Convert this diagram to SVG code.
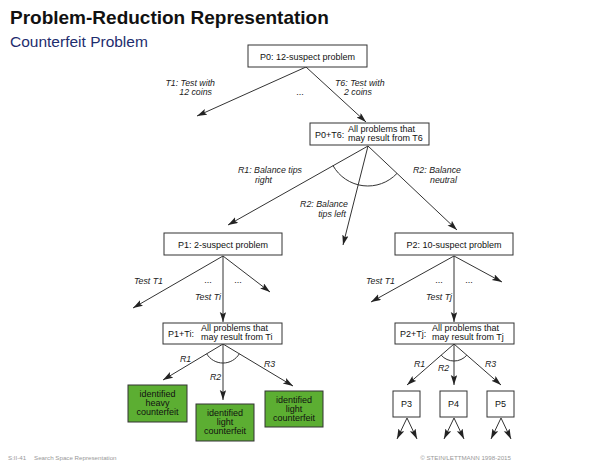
<svg xmlns="http://www.w3.org/2000/svg" width="600" height="467" viewBox="0 0 600 467">
<style>
text{font-family:"Liberation Sans",Arial,sans-serif;fill:#111}
.n{font-size:9px}
.l{font-size:8.8px;font-style:italic;fill:#222}
.box{fill:#fff;stroke:#333;stroke-width:1}
.g{fill:#5cae32;stroke:#333;stroke-width:1}
.c line,.c path{stroke:#333;stroke-width:1;fill:none}
.c line{marker-end:url(#ah)}
.ft{font-size:6.2px;fill:#999}
</style>
<defs>
<marker id="ah" markerUnits="userSpaceOnUse" markerWidth="11" markerHeight="8" refX="10" refY="3.2" orient="auto">
<path d="M0,0 L10,3.2 L0,6.4 L2,3.2 Z" fill="#222"/>
</marker>
</defs>
<rect width="600" height="467" fill="#fff"/>
<text x="10" y="24" style="font-size:19px;font-weight:bold">Problem-Reduction Representation</text>
<text x="10" y="47" style="font-size:15.5px;fill:#1e2d6e">Counterfeit Problem</text>

<g class="c" id="connectors">
<line x1="306" y1="67" x2="197" y2="116"/>
<line x1="306" y1="67" x2="366" y2="122"/>
<line x1="368" y1="146" x2="228" y2="225"/>
<line x1="368" y1="146" x2="343" y2="245"/>
<line x1="368" y1="146" x2="457" y2="230"/>
<path d="M333,165.6 A40 40 0 0 0 397,173.4"/>
<line x1="223" y1="256" x2="133" y2="308"/>
<line x1="223" y1="256" x2="223" y2="322"/>
<line x1="223" y1="256" x2="270" y2="292"/>
<line x1="454" y1="256" x2="371" y2="302"/>
<line x1="454" y1="256" x2="454" y2="322"/>
<line x1="454" y1="256" x2="502" y2="282"/>
<line x1="223" y1="344" x2="163" y2="380"/>
<line x1="223" y1="344" x2="223" y2="400"/>
<line x1="223" y1="344" x2="293" y2="386"/>
<path d="M206.7,353.8 A19 19 0 0 0 239.3,353.8"/>
<line x1="454" y1="344" x2="407" y2="385"/>
<line x1="454" y1="344" x2="454" y2="385"/>
<line x1="454" y1="344" x2="501" y2="385"/>
<path d="M441.2,355.2 A17 17 0 0 0 466.8,355.2"/>
<line x1="407" y1="418" x2="397" y2="439"/>
<line x1="407" y1="418" x2="417" y2="439"/>
<line x1="454" y1="418" x2="444" y2="439"/>
<line x1="454" y1="418" x2="464" y2="439"/>
<line x1="501" y1="418" x2="491" y2="439"/>
<line x1="501" y1="418" x2="511" y2="439"/>
</g>

<g id="labels">
<text class="l" x="215" y="86" text-anchor="end">T1: Test with</text>
<text class="l" x="212" y="95" text-anchor="end">12 coins</text>
<text class="n" x="300" y="95" text-anchor="middle">...</text>
<text class="l" x="335" y="86">T6: Test with</text>
<text class="l" x="344" y="95">2 coins</text>
<text class="l" x="302" y="173" text-anchor="end">R1: Balance tips</text>
<text class="l" x="272" y="183" text-anchor="end">right</text>
<text class="l" x="413" y="173">R2: Balance</text>
<text class="l" x="430" y="183">neutral</text>
<text class="l" x="348" y="207" text-anchor="end">R2: Balance</text>
<text class="l" x="346" y="217" text-anchor="end">tips left</text>
<text class="l" x="163" y="284" text-anchor="end">Test T1</text>
<text class="n" x="208" y="283" text-anchor="middle">...</text>
<text class="n" x="238" y="283" text-anchor="middle">...</text>
<text class="l" x="221" y="300" text-anchor="end">Test Ti</text>
<text class="l" x="395" y="284" text-anchor="end">Test T1</text>
<text class="n" x="439" y="283" text-anchor="middle">...</text>
<text class="n" x="469" y="283" text-anchor="middle">...</text>
<text class="l" x="452" y="300" text-anchor="end">Test Tj</text>
<text class="l" x="180" y="362">R1</text>
<text class="l" x="210" y="380">R2</text>
<text class="l" x="264" y="367">R3</text>
<text class="l" x="414" y="367">R1</text>
<text class="l" x="438" y="371">R2</text>
<text class="l" x="485" y="367">R3</text>
</g>

<g id="P0"><rect class="box" x="248" y="45" width="119" height="22"/><text class="n" x="307.5" y="59.5" text-anchor="middle">P0: 12-suspect problem</text></g>
<g id="P0T6"><rect class="box" x="310" y="123" width="119" height="22"/><text class="n" x="315" y="138">P0+T6:</text><text class="n" x="348" y="132">All problems that</text><text class="n" x="348" y="141">may result from T6</text></g>
<g id="P1"><rect class="box" x="164" y="233" width="118" height="22"/><text class="n" x="223" y="247.5" text-anchor="middle">P1: 2-suspect problem</text></g>
<g id="P2"><rect class="box" x="395" y="233" width="118" height="22"/><text class="n" x="454" y="247.5" text-anchor="middle">P2: 10-suspect problem</text></g>
<g id="P1Ti"><rect class="box" x="163" y="323" width="119" height="21"/><text class="n" x="168" y="337">P1+Ti:</text><text class="n" x="201" y="331">All problems that</text><text class="n" x="201" y="340">may result from Ti</text></g>
<g id="P2Tj"><rect class="box" x="395" y="323" width="119" height="21"/><text class="n" x="400" y="337">P2+Tj:</text><text class="n" x="432" y="331">All problems that</text><text class="n" x="432" y="340">may result from Tj</text></g>
<g id="G1"><rect class="g" x="128" y="385" width="59" height="37"/><text class="n" x="157.5" y="397" text-anchor="middle">identified</text><text class="n" x="157.5" y="406" text-anchor="middle">heavy</text><text class="n" x="157.5" y="415" text-anchor="middle">counterfeit</text></g>
<g id="G2"><rect class="g" x="196" y="404" width="58" height="37"/><text class="n" x="225" y="416" text-anchor="middle">identified</text><text class="n" x="225" y="425" text-anchor="middle">light</text><text class="n" x="225" y="434" text-anchor="middle">counterfeit</text></g>
<g id="G3"><rect class="g" x="265" y="391" width="58" height="36"/><text class="n" x="294" y="403" text-anchor="middle">identified</text><text class="n" x="294" y="412" text-anchor="middle">light</text><text class="n" x="294" y="421" text-anchor="middle">counterfeit</text></g>
<g id="P3"><rect class="box" x="393" y="391" width="27" height="26"/><text class="n" x="406.5" y="407" text-anchor="middle">P3</text></g>
<g id="P4"><rect class="box" x="440" y="391" width="27" height="26"/><text class="n" x="453.5" y="407" text-anchor="middle">P4</text></g>
<g id="P5"><rect class="box" x="487" y="391" width="27" height="26"/><text class="n" x="500.5" y="407" text-anchor="middle">P5</text></g>

<text class="ft" x="8" y="460">S:II-41</text>
<text class="ft" x="34" y="460">Search Space Representation</text>
<text class="ft" x="511" y="460" text-anchor="end">© STEIN/LETTMANN 1998-2015</text>
</svg>
